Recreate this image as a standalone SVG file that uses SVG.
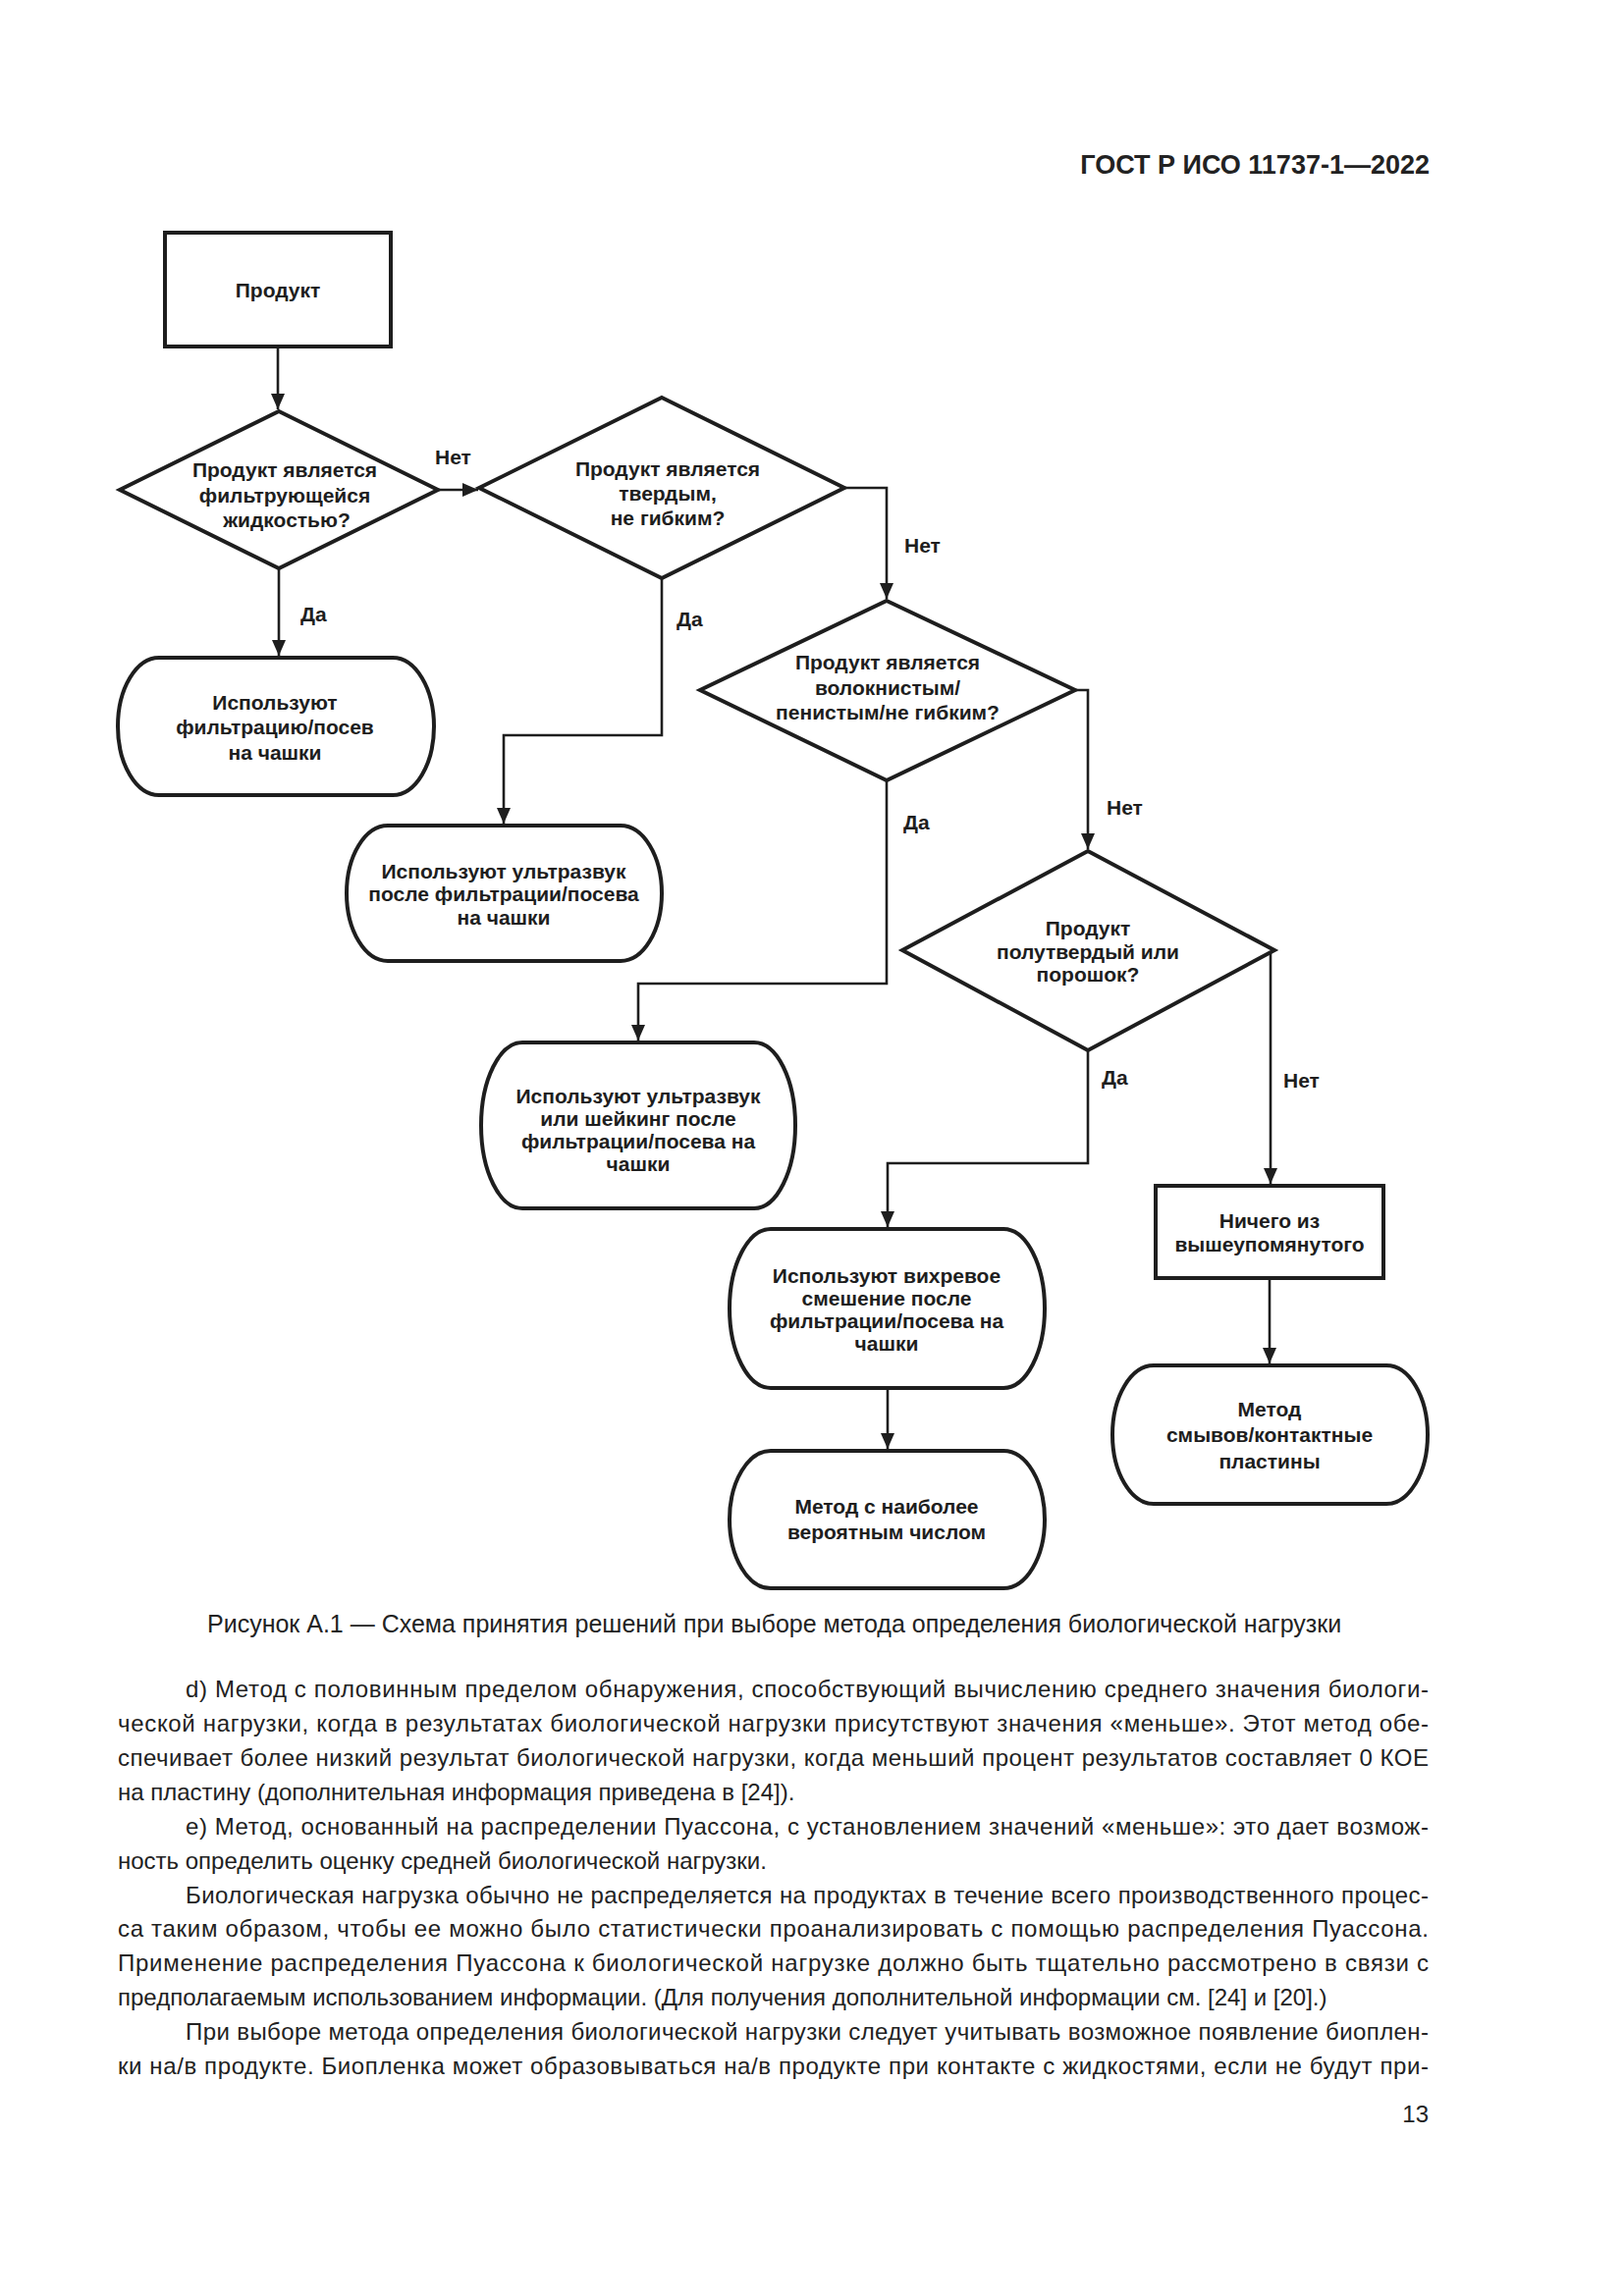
<svg xmlns="http://www.w3.org/2000/svg" width="1654" height="2339" viewBox="0 0 1654 2339">
<defs>
<style>
.shape{fill:#fff;stroke:#1e1e1e;stroke-width:4;stroke-linejoin:miter}
.conn{fill:none;stroke:#1e1e1e;stroke-width:2.6}
.nt{font-family:"Liberation Sans",Arial,sans-serif;font-weight:bold;font-size:21px;fill:#1e1e1e;text-anchor:middle}
.lbl{font-family:"Liberation Sans",Arial,sans-serif;font-weight:bold;font-size:21px;fill:#1e1e1e}
.body{font-family:"Liberation Sans",Arial,sans-serif;font-size:24px;fill:#222}
.cap{font-family:"Liberation Sans",Arial,sans-serif;font-size:25px;fill:#222}
.hdr{font-family:"Liberation Sans",Arial,sans-serif;font-weight:bold;font-size:27px;fill:#222;text-anchor:end}
</style>
<marker id="arr" markerUnits="userSpaceOnUse" markerWidth="16" markerHeight="14" refX="16" refY="7" orient="auto">
<path d="M0,0 L16,7 L0,14 Z" fill="#1e1e1e"/>
</marker>
</defs>
<rect width="1654" height="2339" fill="#fff"/>
<text class="hdr" x="1456" y="177">ГОСТ Р ИСО 11737-1—2022</text>

<g id="connectors">
<path class="conn" d="M283,353 V417" marker-end="url(#arr)"/>
<path class="conn" d="M446,499 H487" marker-end="url(#arr)"/>
<path class="conn" d="M284,579 V668" marker-end="url(#arr)"/>
<path class="conn" d="M860,497 H903 V610" marker-end="url(#arr)"/>
<path class="conn" d="M674,589 V749 H513 V839" marker-end="url(#arr)"/>
<path class="conn" d="M903,795 V1002 H650 V1060" marker-end="url(#arr)"/>
<path class="conn" d="M1095,703 H1108 V865" marker-end="url(#arr)"/>
<path class="conn" d="M1108,1070 V1185 H904 V1250" marker-end="url(#arr)"/>
<path class="conn" d="M1294,968 V1206" marker-end="url(#arr)"/>
<path class="conn" d="M1293,1302 V1389" marker-end="url(#arr)"/>
<path class="conn" d="M904,1414 V1476" marker-end="url(#arr)"/>
<text class="lbl" x="443" y="473">Нет</text>
<text class="lbl" x="306" y="633">Да</text>
<text class="lbl" x="921" y="563">Нет</text>
<text class="lbl" x="689" y="638">Да</text>
<text class="lbl" x="920" y="845">Да</text>
<text class="lbl" x="1127" y="830">Нет</text>
<text class="lbl" x="1122" y="1105">Да</text>
<text class="lbl" x="1307" y="1108">Нет</text>
</g>

<g id="product">
<rect class="shape" x="168" y="237" width="230" height="116"/>
<text class="nt" x="283" y="303">Продукт</text>
</g>

<g id="d1">
<polygon class="shape" points="284,419 446,499 284,579 122,499"/>
<text class="nt" x="290" y="486">Продукт является</text>
<text class="nt" x="290" y="512">фильтрующейся</text>
<text class="nt" x="292" y="537">жидкостью?</text>
</g>

<g id="d2">
<polygon class="shape" points="674,405 860,497 674,589 488,497"/>
<text class="nt" x="680" y="485">Продукт является</text>
<text class="nt" x="680" y="510">твердым,</text>
<text class="nt" x="680" y="535">не гибким?</text>
</g>

<g id="d3">
<polygon class="shape" points="903,612 1095,703 903,795 713,703"/>
<text class="nt" x="904" y="682">Продукт является</text>
<text class="nt" x="904" y="708">волокнистым/</text>
<text class="nt" x="904" y="733">пенистым/не гибким?</text>
</g>

<g id="d4">
<polygon class="shape" points="1108,867 1298,968 1108,1070 919,968"/>
<text class="nt" x="1108" y="953">Продукт</text>
<text class="nt" x="1108" y="977">полутвердый или</text>
<text class="nt" x="1108" y="1000">порошок?</text>
</g>

<g id="box1">
<path class="shape" d="M162,670 H400 A42,70 0 0 1 400,810 H162 A42,70 0 0 1 162,670 Z"/>
<text class="nt" x="280" y="723">Используют</text>
<text class="nt" x="280" y="748">фильтрацию/посев</text>
<text class="nt" x="280" y="774">на чашки</text>
</g>

<g id="box2">
<path class="shape" d="M395,841 H632 A42,69 0 0 1 632,979 H395 A42,69 0 0 1 395,841 Z"/>
<text class="nt" x="513" y="895">Используют ультразвук</text>
<text class="nt" x="513" y="918">после фильтрации/посева</text>
<text class="nt" x="513" y="942">на чашки</text>
</g>

<g id="box3">
<path class="shape" d="M532,1062 H768 A42,84.5 0 0 1 768,1231 H532 A42,84.5 0 0 1 532,1062 Z"/>
<text class="nt" x="650" y="1124">Используют ультразвук</text>
<text class="nt" x="650" y="1147">или шейкинг после</text>
<text class="nt" x="650" y="1170">фильтрации/посева на</text>
<text class="nt" x="650" y="1193">чашки</text>
</g>

<g id="box4">
<path class="shape" d="M785,1252 H1022 A42,81 0 0 1 1022,1414 H785 A42,81 0 0 1 785,1252 Z"/>
<text class="nt" x="903" y="1307">Используют вихревое</text>
<text class="nt" x="903" y="1330">смешение после</text>
<text class="nt" x="903" y="1353">фильтрации/посева на</text>
<text class="nt" x="903" y="1376">чашки</text>
</g>

<g id="none">
<rect class="shape" x="1177" y="1208" width="232" height="94"/>
<text class="nt" x="1293" y="1251">Ничего из</text>
<text class="nt" x="1293" y="1275">вышеупомянутого</text>
</g>

<g id="box5">
<path class="shape" d="M1175,1391 H1412 A42,70.5 0 0 1 1412,1532 H1175 A42,70.5 0 0 1 1175,1391 Z"/>
<text class="nt" x="1293" y="1443">Метод</text>
<text class="nt" x="1293" y="1469">смывов/контактные</text>
<text class="nt" x="1293" y="1496">пластины</text>
</g>

<g id="box6">
<path class="shape" d="M785,1478 H1022 A42,70 0 0 1 1022,1618 H785 A42,70 0 0 1 785,1478 Z"/>
<text class="nt" x="903" y="1542">Метод с наиболее</text>
<text class="nt" x="903" y="1568">вероятным числом</text>
</g>

<text class="cap" x="211" y="1663">Рисунок А.1 — Схема принятия решений при выборе метода определения биологической нагрузки</text>

<g id="bodytext">
<text class="body" x="189" y="1729" textLength="1266" lengthAdjust="spacing">d)  Метод с половинным пределом обнаружения, способствующий вычислению среднего значения биологи-</text>
<text class="body" x="120" y="1764" textLength="1335" lengthAdjust="spacing">ческой нагрузки, когда в результатах биологической нагрузки присутствуют значения «меньше». Этот метод обе-</text>
<text class="body" x="120" y="1799" textLength="1335" lengthAdjust="spacing">спечивает более низкий результат биологической нагрузки, когда меньший процент результатов составляет 0 КОЕ</text>
<text class="body" x="120" y="1834">на пластину (дополнительная информация приведена в [24]).</text>
<text class="body" x="189" y="1869" textLength="1266" lengthAdjust="spacing">e)  Метод, основанный на распределении Пуассона, с установлением значений «меньше»: это дает возмож-</text>
<text class="body" x="120" y="1904">ность определить оценку средней биологической нагрузки.</text>
<text class="body" x="189" y="1939" textLength="1266" lengthAdjust="spacing">Биологическая нагрузка обычно не распределяется на продуктах в течение всего производственного процес-</text>
<text class="body" x="120" y="1973" textLength="1335" lengthAdjust="spacing">са таким образом, чтобы ее можно было статистически проанализировать с помощью распределения Пуассона.</text>
<text class="body" x="120" y="2008" textLength="1335" lengthAdjust="spacing">Применение распределения Пуассона к биологической нагрузке должно быть тщательно рассмотрено в связи с</text>
<text class="body" x="120" y="2043">предполагаемым использованием информации. (Для получения дополнительной информации см. [24] и [20].)</text>
<text class="body" x="189" y="2078" textLength="1266" lengthAdjust="spacing">При выборе метода определения биологической нагрузки следует учитывать возможное появление биоплен-</text>
<text class="body" x="120" y="2113" textLength="1335" lengthAdjust="spacing">ки на/в продукте. Биопленка может образовываться на/в продукте при контакте с жидкостями, если не будут при-</text>
</g>
<text class="body" x="1455" y="2162" text-anchor="end">13</text>
</svg>
